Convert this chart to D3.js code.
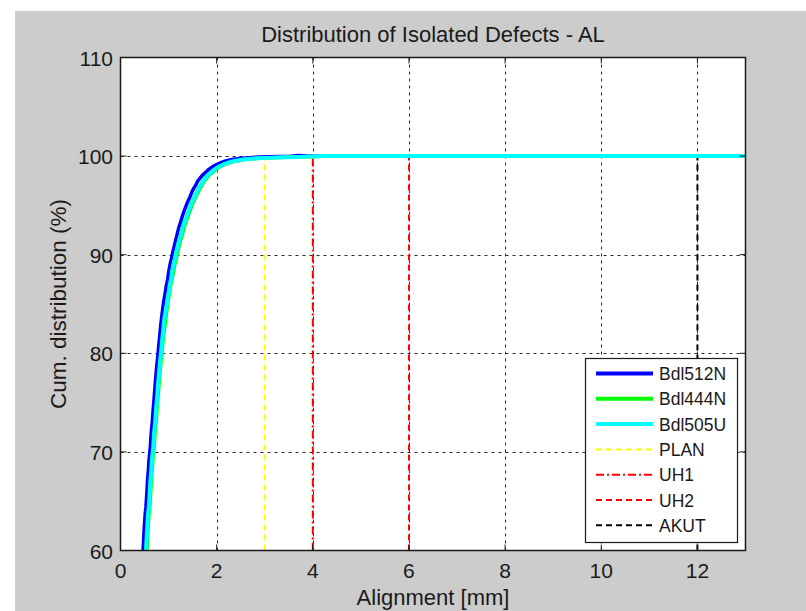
<!DOCTYPE html>
<html>
<head>
<meta charset="utf-8">
<script src="https://cdn.jsdelivr.net/npm/d3@7"></script>
<style>
  html, body { margin: 0; padding: 0; background: #ffffff; }
  svg { display: block; }
  text { font-family: "Liberation Sans", Arial, sans-serif; fill: #1a1a1a; }
</style>
</head>
<body>
<svg id="chart" width="806" height="611"></svg>
<script>
// Cumulative distribution curves: [alignment (mm), cumulative %]
const bdl512N = [[0.44,58],[0.47,60],[0.49,62],[0.51,63.5],[0.53,64.5],[0.55,66],[0.56,67],[0.58,68.2],[0.59,69],[0.61,70],[0.62,70.5],[0.64,72],[0.66,73],[0.68,74.3],[0.70,75.5],[0.72,76.8],[0.74,78],[0.76,79],[0.78,80],[0.80,81],[0.82,82],[0.84,83],[0.86,83.8],[0.88,84.6],[0.90,85.3],[0.93,86.1],[0.95,86.8],[0.98,87.5],[1.00,88.2],[1.03,89],[1.06,89.6],[1.09,90.3],[1.12,90.9],[1.15,91.5],[1.18,92.1],[1.21,92.7],[1.25,93.3],[1.28,93.8],[1.32,94.4],[1.36,94.9],[1.40,95.4],[1.44,95.8],[1.48,96.3],[1.52,96.7],[1.57,97.1],[1.61,97.5],[1.66,97.8],[1.71,98.1],[1.76,98.3],[1.82,98.6],[1.88,98.8],[1.94,99.0],[2.00,99.15],[2.07,99.3],[2.15,99.45],[2.25,99.58],[2.35,99.68],[2.47,99.76],[2.60,99.82],[2.75,99.87],[2.90,99.9],[3.10,99.93],[3.30,99.95],[3.50,99.97],[3.70,100.05],[3.90,100],[13,100]];
const bdl444N = [[0.52,58],[0.55,60],[0.57,62],[0.59,63.5],[0.61,64.5],[0.63,66],[0.64,67],[0.66,68.2],[0.67,69],[0.69,70],[0.70,70.5],[0.72,72],[0.74,73],[0.76,74.3],[0.78,75.5],[0.80,76.8],[0.82,78],[0.84,79],[0.86,80],[0.88,81],[0.90,82],[0.93,83],[0.95,83.8],[0.97,84.6],[0.99,85.3],[1.02,86.1],[1.04,86.8],[1.07,87.5],[1.10,88.2],[1.13,89],[1.16,89.6],[1.19,90.3],[1.22,90.9],[1.25,91.5],[1.29,92.1],[1.32,92.7],[1.36,93.3],[1.40,93.8],[1.44,94.4],[1.48,94.9],[1.52,95.4],[1.56,95.8],[1.61,96.3],[1.65,96.7],[1.70,97.1],[1.75,97.5],[1.80,97.8],[1.85,98.1],[1.91,98.3],[1.97,98.6],[2.03,98.8],[2.10,99.0],[2.17,99.15],[2.25,99.3],[2.35,99.45],[2.47,99.56],[2.60,99.65],[2.75,99.72],[2.90,99.78],[3.10,99.82],[3.30,99.86],[3.55,99.9],[3.80,99.93],[4.05,99.96],[4.30,100],[13,100]];
const bdl505U = [[0.50,58],[0.53,60],[0.55,62],[0.57,63.5],[0.59,64.5],[0.61,66],[0.62,67],[0.64,68.2],[0.65,69],[0.67,70],[0.68,70.5],[0.70,72],[0.72,73],[0.74,74.3],[0.76,75.5],[0.78,76.8],[0.80,78],[0.82,79],[0.84,80],[0.86,81],[0.88,82],[0.90,83],[0.92,83.8],[0.95,84.6],[0.97,85.3],[1.00,86.1],[1.02,86.8],[1.05,87.5],[1.07,88.2],[1.10,89],[1.13,89.6],[1.16,90.3],[1.19,90.9],[1.22,91.5],[1.26,92.1],[1.29,92.7],[1.33,93.3],[1.37,93.8],[1.41,94.4],[1.45,94.9],[1.49,95.4],[1.53,95.8],[1.58,96.3],[1.62,96.7],[1.67,97.1],[1.72,97.5],[1.77,97.8],[1.82,98.1],[1.88,98.3],[1.94,98.6],[2.00,98.8],[2.07,99.0],[2.14,99.15],[2.22,99.3],[2.32,99.45],[2.43,99.56],[2.55,99.65],[2.70,99.72],[2.85,99.78],[3.05,99.82],[3.25,99.86],[3.45,99.89],[3.70,99.92],[3.95,99.96],[4.20,100],[13,100]];

// Threshold limits (mm)
const limitNames = ["PLAN", "UH1", "UH2", "AKUT"];
const limitValues = [3, 4, 6, 12];
const limitTop = 100;

const seriesNames = ["Bdl512N", "Bdl444N", "Bdl505U"];
const xTicks = [0, 2, 4, 6, 8, 10, 12];
const yTicks = [60, 70, 80, 90, 100, 110];

const svg = d3.select("#chart");

// figure background
svg.append("rect").attr("x", 15).attr("y", 11).attr("width", 791).attr("height", 600).attr("fill", "#cccccc");

const pL = 120.5, pR = 745.5, pT = 57.5, pB = 550.5;
const x = d3.scaleLinear().domain([0, 13]).range([pL, pR]);
const y = d3.scaleLinear().domain([60, 110]).range([pB, pT]);

svg.append("rect").attr("x", pL).attr("y", pT).attr("width", pR - pL).attr("height", pB - pT).attr("fill", "#ffffff");

svg.append("defs").append("clipPath").attr("id", "plot-clip")
  .append("rect").attr("x", pL).attr("y", pT).attr("width", pR - pL).attr("height", pB - pT);

// grid
const grid = svg.append("g").attr("stroke", "#2a2a2a").attr("stroke-width", 1).attr("stroke-dasharray", "3,4");
grid.selectAll("line.vx").data(xTicks.filter(d => d > 0)).join("line")
  .attr("x1", d => Math.round(x(d)) + 0.5).attr("x2", d => Math.round(x(d)) + 0.5)
  .attr("y1", pT).attr("y2", pB);
grid.selectAll("line.hy").data(yTicks.filter(d => d > 60 && d < 110)).join("line")
  .attr("y1", d => Math.round(y(d)) + 0.5).attr("y2", d => Math.round(y(d)) + 0.5)
  .attr("x1", pL).attr("x2", pR);

const plot = svg.append("g").attr("clip-path", "url(#plot-clip)");

// limit lines
const limitStyles = {
  PLAN: { color: "#ffff00", dash: "6,4" },
  UH1:  { color: "#ff0000", dash: "8,3,2,3" },
  UH2:  { color: "#ff0000", dash: "6,4" },
  AKUT: { color: "#000000", dash: "6,4" }
};
limitNames.forEach((name, i) => {
  plot.append("line")
    .attr("x1", x(limitValues[i])).attr("x2", x(limitValues[i]))
    .attr("y1", y(60)).attr("y2", y(limitTop))
    .attr("stroke", limitStyles[name].color)
    .attr("stroke-width", 2)
    .attr("stroke-dasharray", limitStyles[name].dash);
});

// curves
const line = d3.line().x(d => x(d[0])).y(d => y(d[1]));
const curves = [
  { data: bdl512N, color: "#0000ff", width: 3.5 },
  { data: bdl444N, color: "#00ff00", width: 3.5 },
  { data: bdl505U, color: "#00ffff", width: 4 }
];
curves.forEach(c => {
  plot.append("path").datum(c.data).attr("d", line)
    .attr("fill", "none").attr("stroke", c.color).attr("stroke-width", c.width)
    .attr("stroke-linejoin", "round");
});

// axes frame
svg.append("rect").attr("x", pL).attr("y", pT).attr("width", pR - pL).attr("height", pB - pT)
  .attr("fill", "none").attr("stroke", "#1a1a1a").attr("stroke-width", 1.5);

// tick marks
const tk = svg.append("g").attr("stroke", "#1a1a1a").attr("stroke-width", 1);
xTicks.forEach(t => {
  tk.append("line").attr("x1", x(t)).attr("x2", x(t)).attr("y1", pB).attr("y2", pB - 6);
  tk.append("line").attr("x1", x(t)).attr("x2", x(t)).attr("y1", pT).attr("y2", pT + 6);
});
yTicks.forEach(t => {
  tk.append("line").attr("x1", pL).attr("x2", pL + 6).attr("y1", y(t)).attr("y2", y(t));
  tk.append("line").attr("x1", pR).attr("x2", pR - 6).attr("y1", y(t)).attr("y2", y(t));
});

// tick labels
svg.append("g").selectAll("text").data(xTicks).join("text")
  .attr("x", d => x(d)).attr("y", 578).attr("text-anchor", "middle")
  .attr("font-size", 21).text(d => d);
svg.append("g").selectAll("text").data(yTicks).join("text")
  .attr("x", 113).attr("y", d => y(d) + 8).attr("text-anchor", "end")
  .attr("font-size", 21).text(d => d);

// titles
svg.append("text").attr("x", (pL + pR) / 2).attr("y", 42).attr("text-anchor", "middle")
  .attr("font-size", 22).text("Distribution of Isolated Defects - AL");
svg.append("text").attr("x", (pL + pR) / 2).attr("y", 605).attr("text-anchor", "middle")
  .attr("font-size", 22).text("Alignment [mm]");
svg.append("text").attr("transform", `translate(66, ${(pT + pB) / 2}) rotate(-90)`)
  .attr("text-anchor", "middle").attr("font-size", 22.5).text("Cum. distribution (%)");

// legend
const lg = svg.append("g");
lg.append("rect").attr("x", 585.5).attr("y", 358.5).attr("width", 152).attr("height", 184)
  .attr("fill", "#ffffff").attr("stroke", "#1a1a1a").attr("stroke-width", 1.2);
const legendItems = [
  { name: seriesNames[0], color: "#0000ff", width: 4, dash: null },
  { name: seriesNames[1], color: "#00ff00", width: 4, dash: null },
  { name: seriesNames[2], color: "#00ffff", width: 4, dash: null },
  { name: limitNames[0], color: "#ffff00", width: 2, dash: "6,4" },
  { name: limitNames[1], color: "#ff0000", width: 2, dash: "8,3,2,3" },
  { name: limitNames[2], color: "#ff0000", width: 2, dash: "6,4" },
  { name: limitNames[3], color: "#000000", width: 2, dash: "6,4" }
];
legendItems.forEach((it, i) => {
  const yy = 373.5 + i * 25.3;
  lg.append("line").attr("x1", 596).attr("x2", 653).attr("y1", yy).attr("y2", yy)
    .attr("stroke", it.color).attr("stroke-width", it.width)
    .attr("stroke-dasharray", it.dash);
  lg.append("text").attr("x", 659).attr("y", yy + 6.5).attr("font-size", 17.5).text(it.name);
});
</script>
</body>
</html>
